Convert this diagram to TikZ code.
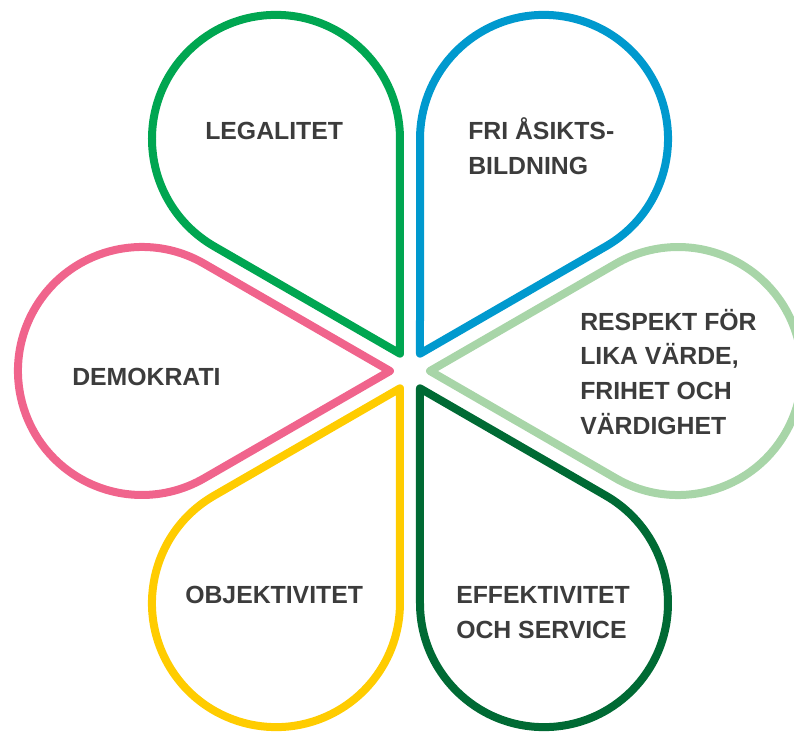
\documentclass[tikz,border=0pt]{standalone}
\usepackage{fontspec}
\setmainfont{Liberation Sans}
\usepackage{tikz}
\usetikzlibrary{calc,positioning}

\definecolor{legalgreen}{RGB}{0,166,81}
\definecolor{opinionblue}{RGB}{0,153,206}
\definecolor{respectgreen}{RGB}{168,213,168}
\definecolor{servicegreen}{RGB}{0,106,52}
\definecolor{objyellow}{RGB}{255,204,0}
\definecolor{demopink}{RGB}{240,100,140}
\definecolor{labelgrey}{RGB}{60,60,60}

\tikzset{
  petal/.style={line width=6pt, line join=round},
  lbl/.style={inner sep=0pt, anchor=base west, align=left, text=labelgrey,
    font=\fontsize{18.6}{26}\selectfont\bfseries}
}

\begin{document}
\begin{tikzpicture}[x=0.75pt,y=0.75pt]
  \useasboundingbox (-410,-362) rectangle (384,371);
  \coordinate (c) at (0,0);
  % six petals, tip near the centre, round end outwards
  \foreach \ang/\col in {120/legalgreen,60/opinionblue,0/respectgreen,-60/servicegreen,-120/objyellow,180/demopink}{
    \draw[petal,draw=\col] ($(c)+(\ang:20)$) -- ++(\ang-30:214.8)
      arc[start angle=\ang-120, end angle=\ang+120, radius=124] -- cycle;
  }
  % labels (base = last line)
  \node[lbl] (legal) at (-205,232) {LEGALITET};
  \node[lbl] (opinion) at (58,197) {FRI ÅSIKTS-\\BILDNING};
  \node[lbl] (respect) at (170,-63) {RESPEKT FÖR\\LIKA VÄRDE,\\FRIHET OCH\\VÄRDIGHET};
  \node[lbl] (demo) at (-338,-14) {DEMOKRATI};
  \node[lbl] (objective) at (-225,-232) {OBJEKTIVITET};
  \node[lbl] (service) at (46,-267) {EFFEKTIVITET\\OCH SERVICE};
\end{tikzpicture}
\end{document}
